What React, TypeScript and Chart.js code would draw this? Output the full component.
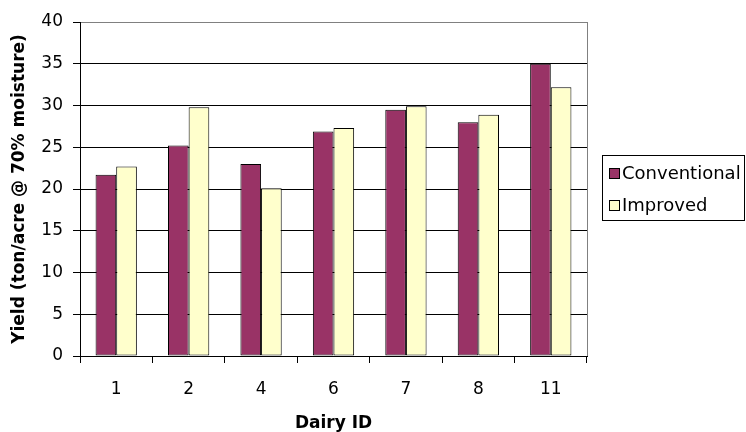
import React, { useEffect, useRef } from "react";
import { Chart, registerables } from "chart.js";

Chart.register(...registerables);

const categories = ["1", "2", "4", "6", "7", "8", "11"];
const conventional = [21.7, 25.2, 23.0, 26.9, 29.5, 28.0, 35.0];
const improved = [22.7, 29.8, 20.1, 27.3, 29.9, 28.9, 32.2];
const seriesNames = ["Conventional", "Improved"];
const seriesColors = ["#993366", "#FFFFCC"];

const FONT = "'DejaVu Sans', sans-serif";

const plotFrame = {
  id: "plotFrame",
  afterDraw(chart: any) {
    const { ctx, chartArea } = chart;
    ctx.save();
    ctx.strokeStyle = "#808080";
    ctx.lineWidth = 1;
    ctx.beginPath();
    ctx.moveTo(Math.round(chartArea.right) + 0.5, chartArea.top);
    ctx.lineTo(Math.round(chartArea.right) + 0.5, chartArea.bottom);
    ctx.stroke();

    // legend box
    const bx = 602.5, by = 155.5, bw = 142, bh = 65;
    ctx.strokeStyle = "#000";
    ctx.fillStyle = "#fff";
    ctx.fillRect(bx, by, bw, bh);
    ctx.strokeRect(bx, by, bw, bh);
    ctx.font = `18px ${FONT}`;
    ctx.textBaseline = "middle";
    const rows = [174, 206];
    seriesNames.forEach((name, i) => {
      ctx.fillStyle = seriesColors[i];
      ctx.fillRect(609.5, rows[i] - 5.5, 10, 10);
      ctx.strokeStyle = "#000";
      ctx.strokeRect(609.5, rows[i] - 5.5, 10, 10);
      ctx.fillStyle = "#000";
      ctx.fillText(name, 622, rows[i]);
    });
    ctx.restore();
  },
};

export default function App() {
  const ref = useRef<HTMLCanvasElement>(null);
  useEffect(() => {
    const ds = (i: number, data: number[]) => ({
      label: seriesNames[i],
      data,
      backgroundColor: seriesColors[i],
      borderColor: "#000",
      borderWidth: 1,
      borderSkipped: false,
      categoryPercentage: 0.57,
      barPercentage: 1,
    });
    const chart = new Chart(ref.current as HTMLCanvasElement, {
      type: "bar",
      data: {
        labels: categories,
        datasets: [ds(0, conventional), ds(1, improved)],
      },
      options: {
        animation: false,
        responsive: false,
        devicePixelRatio: 1,
        layout: { padding: { top: 22, right: 159, left: 0, bottom: 0 } },
        plugins: {
          legend: { display: false },
          tooltip: { enabled: false },
        },
        scales: {
          x: {
            afterFit: (s: any) => {
              s.height = 76;
            },
            grid: {
              display: true,
              drawOnChartArea: false,
              drawTicks: true,
              tickLength: 7,
              color: "#000",
              offset: true,
            },
            border: { display: true, color: "#000", width: 1 },
            ticks: {
              color: "#000",
              font: { family: FONT, size: 17 },
              padding: 16,
              maxRotation: 0,
            },
            title: {
              display: true,
              text: "Dairy ID",
              color: "#000",
              font: { family: FONT, size: 17, weight: "bold" },
              padding: { top: 0, bottom: -2 },
            },
          },
          y: {
            min: 0,
            max: 40,
            afterFit: (s: any) => {
              s.width = 80;
            },
            ticks: {
              stepSize: 5,
              color: "#000",
              font: { family: FONT, size: 17 },
              padding: 10,
            },
            grid: {
              color: (c: any) => (c.tick && c.tick.value === 40 ? "#808080" : "#000"),
              tickColor: "#000",
              tickLength: 7,
              drawTicks: true,
            },
            border: { display: true, color: "#000", width: 1 },
            title: {
              display: true,
              text: "Yield (ton/acre @ 70% moisture)",
              color: "#000",
              font: { family: FONT, size: 17, weight: "bold" },
              padding: { top: 9, bottom: 0 },
            },
          },
        },
      },
      plugins: [plotFrame],
    });
    return () => chart.destroy();
  }, []);
  return (
    <div style={{ position: "fixed", left: 0, top: 0, width: 746, height: 432, background: "#fff" }}>
      <canvas ref={ref} width={746} height={432} style={{ width: 746, height: 432 }} />
    </div>
  );
}
